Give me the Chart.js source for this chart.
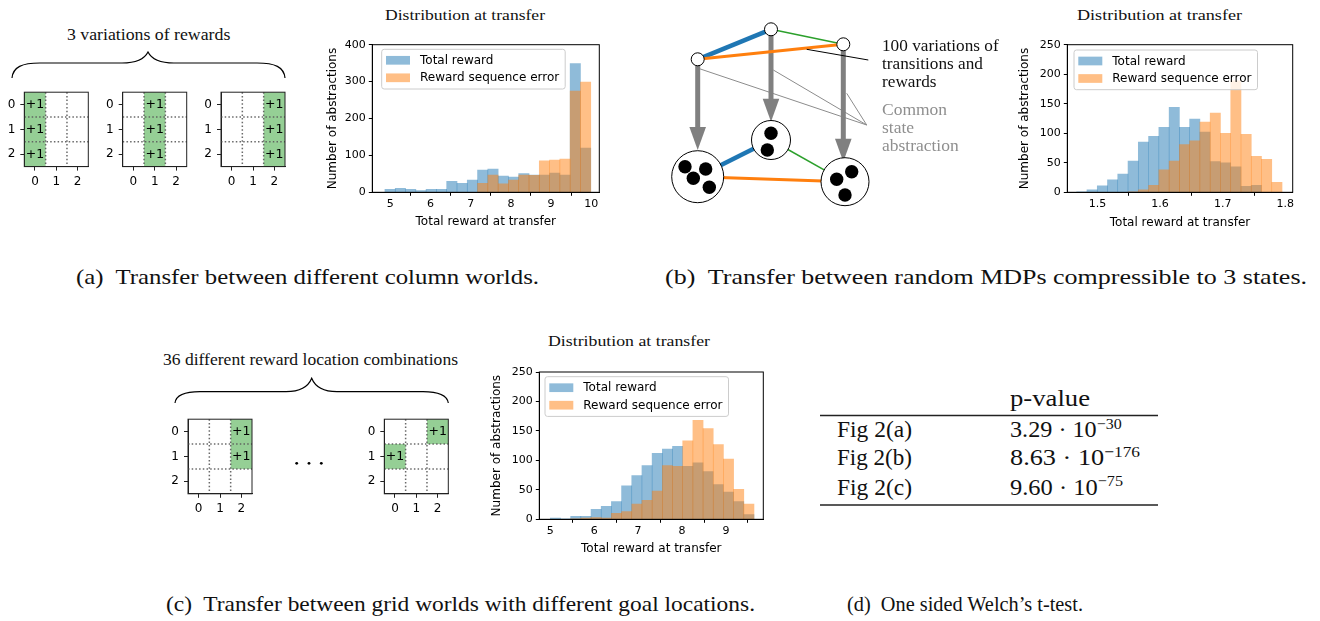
<!DOCTYPE html>
<html>
<head>
<meta charset="utf-8">
<script src="https://cdn.jsdelivr.net/npm/chart.js@4.4.1/dist/chart.umd.min.js"></script>
<style>
  body { margin: 0; background: #fff; width: 1320px; height: 621px; position: relative; overflow: hidden;
         font-family: "Liberation Serif", serif; color: #111; }
  .t { position: absolute; white-space: nowrap; line-height: 1; transform-origin: 0 50%; }
  canvas { position: absolute; }
</style>
</head>
<body>
<svg width="1320" height="621" style="position:absolute;left:0;top:0">
  <!-- braces, table rules, dots -->
  <path d="M12,78 C13,67 22,63 40,63 L122,63 C138,63 145,58 148,52 C151,58 158,63 174,63 L257,63 C275,63 284,67 285,78" fill="none" stroke="#000" stroke-width="1.2"/>
  <path d="M175,403 C176,395 184,391.7 200,391.7 L286,391.7 C302,391.7 309,385 311.7,378.3 C314.4,385 321,391.7 337,391.7 L423,391.7 C439,391.7 447,395 448.3,403" fill="none" stroke="#000" stroke-width="1.2"/>
  <line x1="820" y1="415.5" x2="1158" y2="415.5" stroke="#222" stroke-width="1.3"/>
  <line x1="820" y1="505" x2="1158" y2="505" stroke="#222" stroke-width="1.3"/>
  <circle cx="296.7" cy="463.3" r="1.4" fill="#000"/>
  <circle cx="309" cy="463.3" r="1.4" fill="#000"/>
  <circle cx="321.3" cy="463.3" r="1.4" fill="#000"/>
</svg>
<script>
// ---- histogram data (bin centres, counts) ----
const histABins = [4.995, 5.251, 5.507, 5.763, 6.019, 6.275, 6.531, 6.787, 7.043, 7.299, 7.555, 7.811, 8.067, 8.323, 8.579, 8.835, 9.091, 9.347, 9.603, 9.859];
const histATotal = [8, 11, 8, 5, 8, 8, 30, 24, 33, 60, 63, 44, 41, 51, 47, 47, 52, 47, 349, 120];
const histASeq = [0, 0, 0, 0, 0, 0, 0, 0, 0, 24, 47, 23, 33, 47, 46, 85, 87, 90, 274, 299];
const histAXTicks = ['5', '6', '7', '8', '9', '10'];
const histAYTicks = ['0', '100', '200', '300', '400'];

const histBBins = [1.4752, 1.4916, 1.5080, 1.5243, 1.5407, 1.5571, 1.5735, 1.5899, 1.6063, 1.6227, 1.6390, 1.6554, 1.6718, 1.6882, 1.7046, 1.7210, 1.7374, 1.7537, 1.7701, 1.7865];
const histBTotal = [1, 4, 11, 21, 31, 53, 85, 95, 110, 144, 110, 124, 102, 52, 50, 43, 10, 12, 0, 0];
const histBSeq = [0, 0, 0, 0, 0, 1, 4, 12, 38, 53, 81, 87, 119, 134, 100, 189, 98, 61, 56, 17];
const histBXTicks = ['1.5', '1.6', '1.7', '1.8'];
const histBYTicks = ['0', '50', '100', '150', '200', '250'];

const histCBins = [5.116, 5.348, 5.580, 5.812, 6.044, 6.275, 6.507, 6.739, 6.971, 7.203, 7.435, 7.667, 7.899, 8.131, 8.363, 8.594, 8.826, 9.058, 9.290, 9.522];
const histCTotal = [2, 1, 5, 5, 17, 22, 30, 57, 74, 91, 112, 119, 124, 90, 96, 81, 59, 46, 30, 8];
const histCSeq = [0, 0, 1, 2, 3, 2, 10, 13, 26, 32, 48, 91, 90, 133, 168, 154, 127, 102, 51, 26];
const histCXTicks = ['5', '6', '7', '8', '9'];
const histCYTicks = ['0', '50', '100', '150', '200', '250'];

const seriesLabels = ['Total reward', 'Reward sequence error'];

// ---- grid worlds: rewarded cells (column, row) ----
const gridTicks = ['0', '1', '2'];
const gridA1 = [{x: 0, y: 0}, {x: 0, y: 1}, {x: 0, y: 2}];
const gridA2 = [{x: 1, y: 0}, {x: 1, y: 1}, {x: 1, y: 2}];
const gridA3 = [{x: 2, y: 0}, {x: 2, y: 1}, {x: 2, y: 2}];
const gridC1 = [{x: 2, y: 0}, {x: 2, y: 1}];
const gridC2 = [{x: 2, y: 0}, {x: 0, y: 1}];

// ---- MDP diagram: nodes, abstract states, edges ----
const mdpNodes = [{x: 37.7, y: 44.3}, {x: 111, y: 14.3}, {x: 183.3, y: 29.3}];
const absStates = [{x: 37.7, y: 161.7, r: 26}, {x: 111, y: 125, r: 19.5}, {x: 185, y: 166.7, r: 24}];
const absDots = [{x: 25, y: 151.7}, {x: 45.7, y: 154}, {x: 33.3, y: 163.3}, {x: 49.3, y: 172.3},
                 {x: 111, y: 118.3}, {x: 107.3, y: 135},
                 {x: 191.7, y: 156.7}, {x: 176.7, y: 164.3}, {x: 185, y: 180}];
const arrowTips = [135, 106.7, 146.7];
const edges = [[0, 1, '#1f77b4', 4.5], [1, 2, '#2ca02c', 1.5], [0, 2, '#ff7f0e', 3]];
const grayPointer = {from: {x: 206.7, y: 110}, to: [{x: 38.3, y: 53.3}, {x: 113.3, y: 55}, {x: 186.7, y: 78.3}]};
const blackPointer = [{x: 146.7, y: 34.3}, {x: 208.3, y: 45}];

// ---- helpers ----
function makeCanvas(left, top, w, h) {
  const c = document.createElement('canvas');
  c.width = w; c.height = h;
  c.style.left = left + 'px'; c.style.top = top + 'px';
  c.style.width = w + 'px'; c.style.height = h + 'px';
  document.body.appendChild(c);
  return c;
}

const framePlugin = {
  id: 'frame',
  afterDatasetsDraw(chart, args, opts) {
    const a = chart.chartArea, ctx = chart.ctx;
    ctx.save();
    ctx.strokeStyle = opts.color || '#000';
    ctx.lineWidth = 1;
    ctx.strokeRect(a.left, a.top, a.right - a.left, a.bottom - a.top);
    ctx.restore();
  }
};

const innerLegend = {
  id: 'innerLegend',
  afterDatasetsDraw(chart, args, opts) {
    const ctx = chart.ctx, a = chart.chartArea;
    ctx.save();
    ctx.font = '12px "DejaVu Sans"';
    const sets = chart.data.datasets;
    let tw = 0;
    sets.forEach(d => { tw = Math.max(tw, ctx.measureText(d.label).width); });
    const x = a.left + opts.dx, y = a.top + opts.dy;
    const w = 4.3 + 24 + 10 + tw + 6, h = 39.7;
    ctx.beginPath();
    ctx.roundRect(x, y, w, h, 2.5);
    ctx.fillStyle = 'rgba(255,255,255,0.8)';
    ctx.fill();
    ctx.strokeStyle = '#cccccc';
    ctx.lineWidth = 1;
    ctx.stroke();
    sets.forEach((d, i) => {
      const cy = y + 11 + i * 17.5;
      ctx.fillStyle = d.backgroundColor;
      ctx.fillRect(x + 4.3, cy - 4.35, 24, 8.7);
      ctx.fillStyle = '#000';
      ctx.textBaseline = 'middle';
      ctx.fillText(d.label, x + 4.3 + 24 + 10, cy + 0.5);
    });
    ctx.restore();
  }
};

function hist(g, bins, total, seq, xMin, xMax, xTicks, yMax, yTicks) {
  const left = Math.round(g.yTitleX - 7.2), top = Math.round(g.t - 15), bottom = Math.round(g.xTitleY + 7.2);
  const cv = makeCanvas(left, top, Math.round(g.right - left), bottom - top);
  const tickFont = {family: 'DejaVu Sans', size: 11};
  const titleFont = {family: 'DejaVu Sans', size: 12};
  new Chart(cv, {
    type: 'bar',
    data: {
      datasets: [
        {label: seriesLabels[0], data: bins.map((x, i) => ({x: x, y: total[i]})), backgroundColor: 'rgba(31,119,180,0.5)', order: 1},
        {label: seriesLabels[1], data: bins.map((x, i) => ({x: x, y: seq[i]})), backgroundColor: 'rgba(255,127,14,0.5)', order: 0}
      ]
    },
    options: {
      responsive: false, animation: false, devicePixelRatio: 1,
      layout: {padding: {top: g.t - top, right: Math.round(g.right - left) + left - g.r, left: 0, bottom: 0}},
      datasets: {bar: {grouped: false, barPercentage: 1, categoryPercentage: 1, borderWidth: 0}},
      plugins: {legend: {display: false}, tooltip: {enabled: false}, innerLegend: {dx: g.ldx, dy: g.ldy}},
      scales: {
        x: {
          type: 'linear', min: xMin, max: xMax, offset: false,
          afterBuildTicks: s => { s.ticks = xTicks.map(v => ({value: Number(v)})); },
          afterFit: s => { s.height = bottom - g.b; },
          grid: {display: true, drawOnChartArea: false, tickLength: 3.5, color: '#000'},
          border: {display: true, color: '#000', width: 1},
          ticks: {font: tickFont, color: '#000', padding: 2, maxRotation: 0, autoSkip: false, callback: (v, i) => xTicks[i]},
          title: {display: true, text: 'Total reward at transfer', font: titleFont, color: '#000', padding: 0}
        },
        y: {
          min: 0, max: yMax,
          afterBuildTicks: s => { s.ticks = yTicks.map(v => ({value: Number(v)})); },
          afterFit: s => { s.width = g.l - left; },
          grid: {display: true, drawOnChartArea: false, tickLength: 3.5, color: '#000'},
          border: {display: true, color: '#000', width: 1},
          ticks: {font: tickFont, color: '#000', padding: 3, callback: (v, i) => yTicks[i]},
          title: {display: true, text: 'Number of abstractions', font: titleFont, color: '#000', padding: 0}
        }
      }
    },
    plugins: [framePlugin, innerLegend]
  });
}

const gridPlugin = {
  id: 'gridCells',
  beforeDatasetsDraw(chart) {
    const ctx = chart.ctx, sx = chart.scales.x, sy = chart.scales.y, a = chart.chartArea;
    ctx.save();
    chart.data.datasets[0].data.forEach(c => {
      const x0 = sx.getPixelForValue(c.x - 0.5), x1 = sx.getPixelForValue(c.x + 0.5);
      const y0 = sy.getPixelForValue(c.y - 0.5), y1 = sy.getPixelForValue(c.y + 0.5);
      ctx.fillStyle = 'rgba(44,160,44,0.5)';
      ctx.fillRect(x0, y0, x1 - x0, y1 - y0);
    });
    ctx.strokeStyle = 'rgba(90,90,90,0.9)';
    ctx.lineWidth = 1.5;
    ctx.setLineDash([1.5, 2.2]);
    [0.5, 1.5].forEach(v => {
      const px = sx.getPixelForValue(v), py = sy.getPixelForValue(v);
      ctx.beginPath(); ctx.moveTo(px, a.top); ctx.lineTo(px, a.bottom); ctx.stroke();
      ctx.beginPath(); ctx.moveTo(a.left, py); ctx.lineTo(a.right, py); ctx.stroke();
    });
    ctx.setLineDash([]);
    ctx.fillStyle = '#000';
    ctx.font = '12.5px "DejaVu Sans"';
    ctx.textAlign = 'center';
    ctx.textBaseline = 'middle';
    chart.data.datasets[0].data.forEach(c => {
      ctx.fillText('+1', sx.getPixelForValue(c.x), sy.getPixelForValue(c.y) + 0.5);
    });
    ctx.strokeStyle = '#222';
    ctx.lineWidth = 1;
    ctx.strokeRect(a.left, a.top, a.right - a.left, a.bottom - a.top);
    ctx.restore();
  }
};

function gridWorld(pl, pt, cells) {
  const pw = 64, ph = 78.3;
  const left = Math.round(pl - 24.3), top = Math.round(pt - 8.3), w = 95, h = 112;
  const cv = makeCanvas(left, top, w, h);
  const tickFont = {family: 'DejaVu Sans', size: 12};
  const axis = (extra) => Object.assign({
    type: 'linear', min: -0.5, max: 2.5,
    afterBuildTicks: s => { s.ticks = gridTicks.map(v => ({value: Number(v)})); },
    grid: {display: true, drawOnChartArea: false, tickLength: 4, color: '#222'},
    border: {display: true, color: '#222', width: 1},
    ticks: {font: tickFont, color: '#000', padding: 5, callback: (v, i) => gridTicks[i]}
  }, extra);
  new Chart(cv, {
    type: 'scatter',
    data: {datasets: [{data: cells, pointRadius: 0}]},
    options: {
      responsive: false, animation: false, devicePixelRatio: 1,
      layout: {autoPadding: false, padding: {top: pt - top, right: left + w - (pl + pw), left: 0, bottom: 0}},
      plugins: {legend: {display: false}, tooltip: {enabled: false}},
      scales: {
        x: axis({afterFit: s => { s.height = top + h - (pt + ph); }, ticks: {font: tickFont, color: '#000', padding: 4, maxRotation: 0, callback: (v, i) => gridTicks[i]}}),
        y: axis({reverse: true, afterFit: s => { s.width = pl - left; }})
      }
    },
    plugins: [gridPlugin]
  });
}

const diagramPlugin = {
  id: 'mdpDiagram',
  beforeDatasetsDraw(chart) {
    const ctx = chart.ctx, sx = chart.scales.x, sy = chart.scales.y;
    const P = p => [sx.getPixelForValue(p.x), sy.getPixelForValue(p.y)];
    const line = (a, b, color, lw) => {
      const pa = P(a), pb = P(b);
      ctx.strokeStyle = color; ctx.lineWidth = lw;
      ctx.beginPath(); ctx.moveTo(pa[0], pa[1]); ctx.lineTo(pb[0], pb[1]); ctx.stroke();
    };
    ctx.save();
    ctx.lineCap = 'butt';
    grayPointer.to.forEach(t => line(grayPointer.from, t, '#8c8c8c', 1));
    // abstraction arrows
    mdpNodes.forEach((n, i) => {
      const start = P(n), tip = P({x: n.x, y: arrowTips[i]});
      const headLen = 23, headHalf = 8.3;
      ctx.strokeStyle = '#808080'; ctx.lineWidth = 5;
      ctx.beginPath(); ctx.moveTo(start[0], start[1]); ctx.lineTo(tip[0], tip[1] - headLen + 1); ctx.stroke();
      ctx.fillStyle = '#808080';
      ctx.beginPath();
      ctx.moveTo(tip[0], tip[1]);
      ctx.lineTo(tip[0] - headHalf, tip[1] - headLen);
      ctx.lineTo(tip[0] + headHalf, tip[1] - headLen);
      ctx.closePath(); ctx.fill();
    });
    edges.forEach(e => line(mdpNodes[e[0]], mdpNodes[e[1]], e[2], e[3]));
    edges.forEach(e => line(absStates[e[0]], absStates[e[1]], e[2], e[3]));
    line(blackPointer[0], blackPointer[1], '#000', 1);
    absStates.forEach(s => {
      const c = P(s);
      ctx.beginPath(); ctx.arc(c[0], c[1], s.r, 0, Math.PI * 2);
      ctx.fillStyle = '#fff'; ctx.fill();
      ctx.strokeStyle = '#000'; ctx.lineWidth = 1; ctx.stroke();
    });
    absDots.forEach(d => {
      const c = P(d);
      ctx.beginPath(); ctx.arc(c[0], c[1], 6.7, 0, Math.PI * 2);
      ctx.fillStyle = '#000'; ctx.fill();
    });
    ctx.restore();
  }
};

function diagram() {
  const cv = makeCanvas(660, 15, 225, 200);
  new Chart(cv, {
    type: 'scatter',
    data: {datasets: [{data: mdpNodes, pointRadius: 6.5, backgroundColor: '#fff', borderColor: '#000', borderWidth: 1}]},
    options: {
      responsive: false, animation: false, devicePixelRatio: 1,
      layout: {autoPadding: false, padding: 0},
      plugins: {legend: {display: false}, tooltip: {enabled: false}},
      scales: {
        x: {type: 'linear', min: 0, max: 225, display: false},
        y: {type: 'linear', min: 0, max: 200, reverse: true, display: false}
      }
    },
    plugins: [diagramPlugin]
  });
}

function text(html, x, cy, fs, w, color) {
  const d = document.createElement('div');
  d.className = 't';
  d.innerHTML = html;
  d.style.left = x + 'px';
  d.style.top = (cy - fs * 0.5) + 'px';
  d.style.fontSize = fs + 'px';
  if (color) d.style.color = color;
  document.body.appendChild(d);
  if (w) {
    const nat = d.getBoundingClientRect().width;
    d.style.transform = 'scaleX(' + (w / nat) + ')';
  }
  return d;
}

function textBlock(lines, x, cys, fs, w, color) {
  const els = lines.map((s, i) => text(s, x, cys[i], fs, 0, color));
  const widest = Math.max(...els.map(e => e.getBoundingClientRect().width));
  els.forEach(e => { e.style.transform = 'scaleX(' + (w / widest) + ')'; });
}

// ---- build ----
hist({l: 372.3, t: 44.7, r: 599.3, b: 192.3, yTitleX: 333.3, xTitleY: 221.7, right: 610, ldx: 9.4, ldy: 4.6},
     histABins, histATotal, histASeq, 4.552, 10.2, histAXTicks, 400, histAYTicks);
hist({l: 1067.3, t: 44.7, r: 1292.7, b: 192.3, yTitleX: 1025, xTitleY: 222.7, right: 1305, ldx: 6.7, ldy: 5.3},
     histBBins, histBTotal, histBSeq, 1.452, 1.8117, histBXTicks, 250, histBYTicks);
hist({l: 539.3, t: 372, r: 763.3, b: 519.3, yTitleX: 496.7, xTitleY: 548.3, right: 775, ldx: 5.7, ldy: 4.7},
     histCBins, histCTotal, histCSeq, 4.75, 9.85, histCXTicks, 250, histCYTicks);

gridWorld(24.3, 88.3, gridA1);
gridWorld(122.7, 88.3, gridA2);
gridWorld(221, 88.3, gridA3);
gridWorld(188, 415.5, gridC1);
gridWorld(384.3, 415.5, gridC2);

diagram();

function labels() {
  document.querySelectorAll('.t').forEach(e => e.remove());
  text('Distribution at transfer', 385, 15, 15, 160);
  text('Distribution at transfer', 1077, 15, 15, 165);
  text('Distribution at transfer', 548, 341, 15, 162);
  text('3 variations of rewards', 66.7, 34.5, 16, 163.3);
  text('36 different reward location combinations', 163.3, 360, 16, 295);
  textBlock(['100 variations of', 'transitions and', 'rewards'], 881.7, [45.5, 63.5, 81.5], 17, 116.7);
  textBlock(['Common', 'state', 'abstraction'], 881.7, [109, 127.3, 145.6], 17, 76.7, '#8f8f8f');

  text('p-value', 1010, 398, 23, 80);
  const sup = s => '<span style="font-size:0.66em;position:relative;top:-0.55em">' + s + '</span>';
  text('Fig 2(a)', 836.7, 429.5, 23, 75);
  text('Fig 2(b)', 836.7, 457.8, 23, 75);
  text('Fig 2(c)', 836.7, 487.3, 23, 75);
  text('3.29 · 10' + sup('−30'), 1010, 429.5, 23, 111.7);
  text('8.63 · 10' + sup('−176'), 1010, 457.8, 23, 130);
  text('9.60 · 10' + sup('−75'), 1010, 487.3, 23, 113);

  text('(a)&nbsp; Transfer between different column worlds.', 76, 277, 22, 463);
  text('(b)&nbsp; Transfer between random MDPs compressible to 3 states.', 665, 277, 22, 642);
  text('(c)&nbsp; Transfer between grid worlds with different goal locations.', 166, 604, 22, 589);
  text('(d)&nbsp; One sided Welch’s t-test.', 847, 604, 22, 236);
}
labels();
if (document.fonts && document.fonts.ready) document.fonts.ready.then(labels);
</script>
</body>
</html>
